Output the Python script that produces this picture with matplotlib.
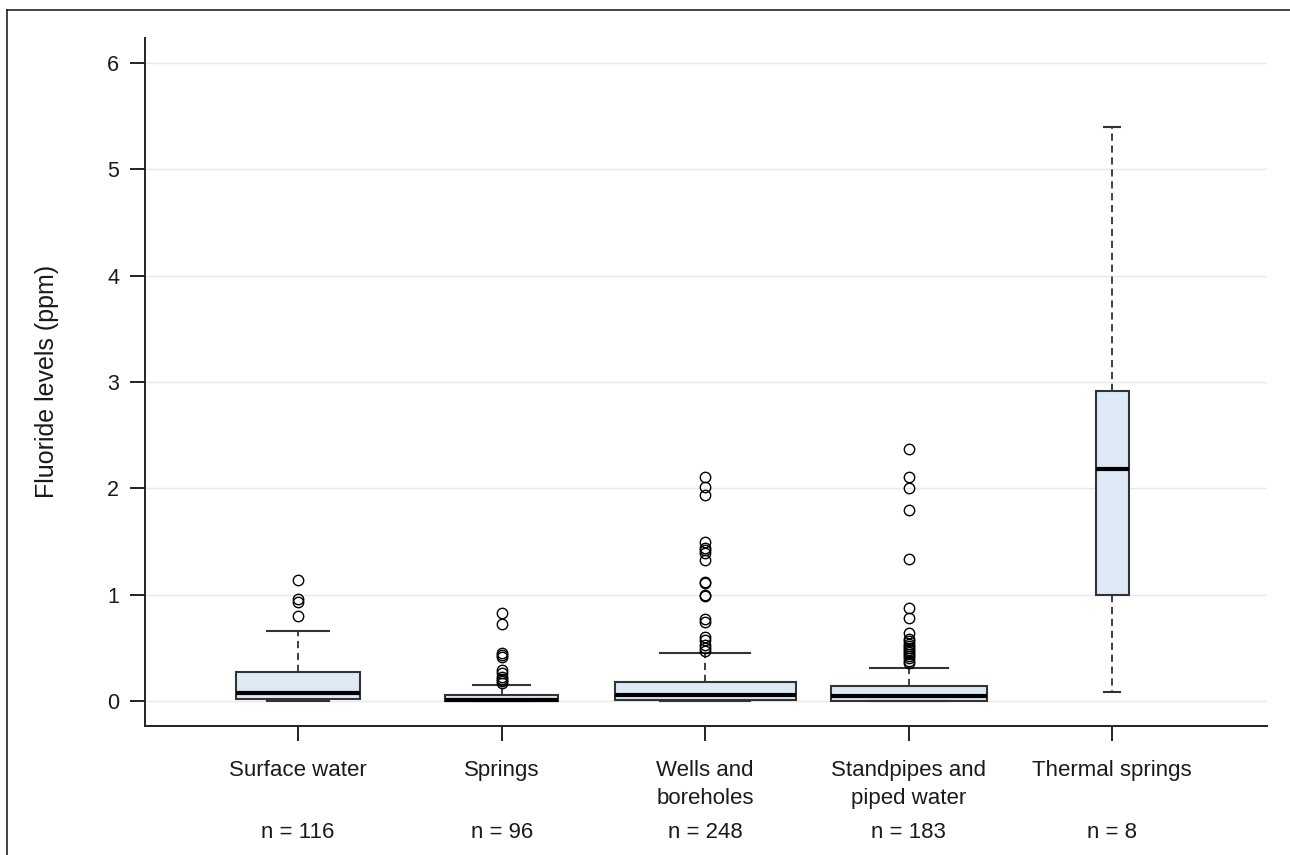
import numpy as np
import matplotlib
matplotlib.use("Agg")
import matplotlib.pyplot as plt
from matplotlib.lines import Line2D

# ---------------- data ----------------
categories = ["Surface water", "Springs", "Wells and\nboreholes",
              "Standpipes and\npiped water", "Thermal springs"]
n_samples = [116, 96, 248, 183, 8]
q1_values = [0.015, 0.0, 0.005, 0.0, 1.0]
median_values = [0.075, 0.01, 0.06, 0.045, 2.18]
q3_values = [0.27, 0.06, 0.18, 0.14, 2.92]
whisker_low = [0.0, 0.0, 0.0, 0.0, 0.085]
whisker_high = [0.655, 0.155, 0.45, 0.315, 5.40]
outliers_surface = [0.80, 0.93, 0.96, 1.14]
outliers_springs = [0.17, 0.19, 0.21, 0.23, 0.26, 0.29, 0.41, 0.43, 0.45, 0.72, 0.83]
outliers_wells = [0.47, 0.50, 0.53, 0.57, 0.60, 0.74, 0.77, 0.99, 1.00, 1.11, 1.12,
                  1.33, 1.39, 1.42, 1.44, 1.50, 1.94, 2.01, 2.11]
outliers_standpipes = [0.36, 0.38, 0.40, 0.42, 0.44, 0.46, 0.48, 0.50, 0.52, 0.54,
                       0.56, 0.58, 0.64, 0.78, 0.87, 1.34, 1.80, 2.00, 2.11, 2.37]
outliers_thermal = []
outliers = [outliers_surface, outliers_springs, outliers_wells,
            outliers_standpipes, outliers_thermal]
y_ticks = [0, 1, 2, 3, 4, 5, 6]
y_label = "Fluoride levels (ppm)"

# ---------------- figure ----------------
plt.rcParams['font.family'] = ['Liberation Sans', 'DejaVu Sans']
fig = plt.figure(figsize=(12.9, 8.55), dpi=100)
ax = fig.add_axes([145/1290, 1 - 726/855, (1267-145)/1290, (726-38)/855])

positions = np.arange(1, len(categories) + 1)
max_n = max(n_samples)
widths = [0.89 * np.sqrt(n / max_n) for n in n_samples]

stats = []
for i in range(len(categories)):
    stats.append(dict(med=median_values[i], q1=q1_values[i], q3=q3_values[i],
                      whislo=whisker_low[i], whishi=whisker_high[i],
                      fliers=outliers[i], label=categories[i]))

edge = "#333333"
ax.bxp(stats, positions=positions, widths=widths, patch_artist=True,
       capwidths=[w / 2 for w in widths],
       boxprops=dict(facecolor="#dde9f5", edgecolor=edge, linewidth=1.5),
       whiskerprops=dict(color=edge, linewidth=1.3, linestyle=(0, (4, 2.6))),
       capprops=dict(color=edge, linewidth=1.5),
       medianprops=dict(color="black", linewidth=3.0, solid_capstyle="butt"),
       flierprops=dict(marker="o", markersize=7.5, markerfacecolor="none",
                       markeredgecolor="black", markeredgewidth=1.0),
       manage_ticks=False, zorder=3)

ax.set_xlim(0.248, 5.76)
ax.set_ylim(-0.235, 6.235)
ax.set_yticks(y_ticks)
ax.set_yticklabels([str(t) for t in y_ticks])
ax.set_xticks(positions)
ax.set_xticklabels(categories, linespacing=1.42)

for t in y_ticks:
    ax.axhline(t, color="#e8e8e8", linewidth=1.0, zorder=0)

for s in ["top", "right"]:
    ax.spines[s].set_visible(False)
for s in ["left", "bottom"]:
    ax.spines[s].set_color("#222222")
    ax.spines[s].set_linewidth(1.4)

ax.tick_params(axis="both", direction="out", length=10.5, width=1.4,
               color="#222222", labelcolor="#1a1a1a")
ax.tick_params(axis="y", pad=8, labelsize=15.5)
ax.tick_params(axis="x", pad=14, labelsize=16)

for p, n in zip(positions, n_samples):
    ax.annotate(f"n = {n}", xy=(p, 0), xycoords=ax.get_xaxis_transform(),
                xytext=(0, -106 * 0.72), textcoords="offset points",
                ha="center", va="center", fontsize=16, color="#1a1a1a",
                annotation_clip=False)

fig.text(47/1290, 1 - 381/855, y_label, rotation=90, ha="center", va="center",
         fontsize=18, color="#1a1a1a")

# outer frame (top and left edges visible in reference)
fig.add_artist(Line2D([7/1290, 7/1290], [0, 1 - 10/855], transform=fig.transFigure,
                      color="#222222", linewidth=1.2))
fig.add_artist(Line2D([7/1290, 1], [1 - 10/855, 1 - 10/855], transform=fig.transFigure,
                      color="#222222", linewidth=1.2))

fig.savefig("out.png", dpi=100)
